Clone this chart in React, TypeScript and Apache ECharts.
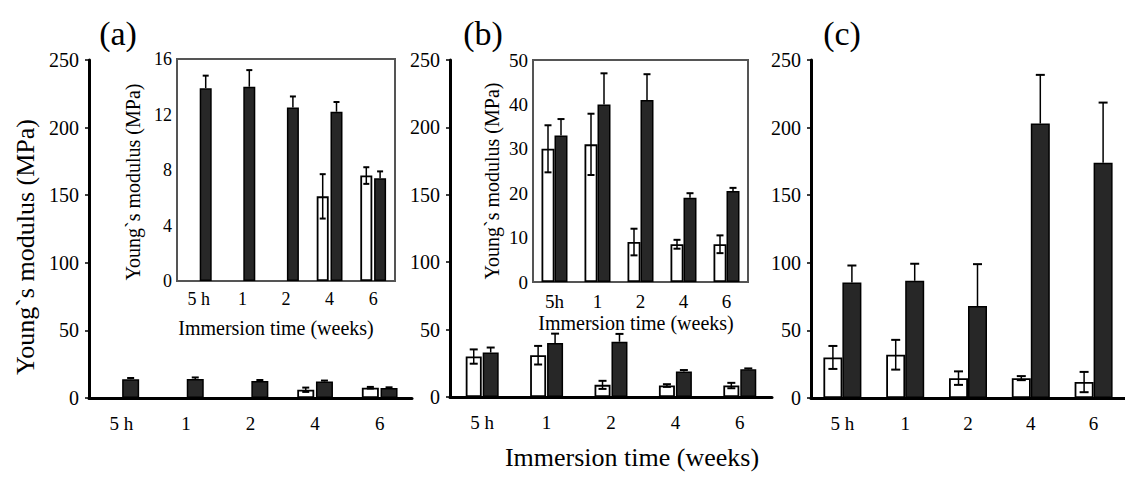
import React, { useEffect, useRef } from "react";
import * as echarts from "echarts";

// ---------- data ----------
const mainCategories = ["5 h", "1", "2", "4", "6"];
const insetACategories = ["5 h", "1", "2", "4", "6"];
const insetBCategories = ["5h", "1", "2", "4", "6"];

const mainTicks = [0, 50, 100, 150, 200, 250];
const insetATicks = [0, 4, 8, 12, 16];
const insetBTicks = [0, 10, 20, 30, 40, 50];

// Panel (a)
const aWhite: (number | null)[] = [null, null, null, 6.1, 7.6];
const aWhiteErr: (number | null)[] = [null, null, null, 1.6, 0.6];
const aDark = [13.9, 14.0, 12.5, 12.2, 7.4];
const aDarkErr = [0.9, 1.2, 0.8, 0.7, 0.5];

// Panel (b)
const bWhite = [30, 31, 9, 8.5, 8.5];
const bWhiteErr = [5.3, 6.9, 3, 1, 2];
const bDark = [33, 40, 41, 19, 20.5];
const bDarkErr = [3.7, 7, 5.8, 1, 0.7];

// Panel (c)
const cWhite = [30, 32, 14.7, 14.7, 11.8];
const cWhiteErr = [8.5, 11, 5, 1.5, 7.5];
const cDark = [85.5, 86.7, 68, 203, 174];
const cDarkErr = [12.5, 12.6, 31, 36, 44.5];

const FONT = "'Liberation Serif', 'Times New Roman', serif";
const DARK = "#272727";

function errData(vals: (number | null)[], errs: (number | null)[]) {
  const out: number[][] = [];
  vals.forEach((v, i) => {
    if (v != null && errs[i] != null) out.push([i, v, errs[i] as number]);
  });
  return out;
}

function makeErr(offset: number, both: boolean, capW: number) {
  return (params: any, api: any) => {
    const idx = api.value(0);
    const v = api.value(1);
    const e = api.value(2);
    const top = api.coord([idx, v + e]);
    const mid = api.coord([idx, v]);
    const bot = api.coord([idx, Math.max(0, v - e)]);
    const x = top[0] + offset;
    const y1 = both ? bot[1] : mid[1];
    const children: any[] = [
      { type: "line", shape: { x1: x, y1: y1, x2: x, y2: top[1] }, style: { stroke: "#000", lineWidth: 1.5 } },
      { type: "line", shape: { x1: x - capW / 2, y1: top[1], x2: x + capW / 2, y2: top[1] }, style: { stroke: "#000", lineWidth: 2 } },
    ];
    if (both) {
      children.push({ type: "line", shape: { x1: x - capW / 2, y1: bot[1], x2: x + capW / 2, y2: bot[1] }, style: { stroke: "#000", lineWidth: 2 } });
    }
    return { type: "group", children };
  };
}

function mainX(gridIndex: number) {
  return {
    type: "category",
    gridIndex,
    data: mainCategories,
    axisLine: { show: true, lineStyle: { color: "#000", width: 3 } },
    axisTick: { show: false },
    axisLabel: { color: "#000", fontFamily: FONT, fontSize: 19, margin: 16 },
  };
}
function mainY(gridIndex: number) {
  return {
    type: "value",
    gridIndex,
    min: mainTicks[0],
    max: mainTicks[mainTicks.length - 1],
    interval: mainTicks[1] - mainTicks[0],
    axisLine: { show: true, lineStyle: { color: "#000", width: 3 } },
    axisTick: { show: true, length: 4, lineStyle: { color: "#000", width: 1.5 } },
    splitLine: { show: false },
    axisLabel: { color: "#000", fontFamily: FONT, fontSize: 20, margin: 10 },
  };
}
function insetX(gridIndex: number, cats: string[], fs: number, margin: number) {
  return {
    type: "category",
    gridIndex,
    data: cats,
    axisLine: { show: true, lineStyle: { color: "#333", width: 2 } },
    axisTick: { show: false },
    axisLabel: { color: "#000", fontFamily: FONT, fontSize: fs, margin },
  };
}
function insetY(gridIndex: number, ticks: number[], fs: number) {
  return {
    type: "value",
    gridIndex,
    min: ticks[0],
    max: ticks[ticks.length - 1],
    interval: ticks[1] - ticks[0],
    axisLine: { show: true, lineStyle: { color: "#333", width: 2 } },
    axisTick: { show: true, inside: true, length: 3, lineStyle: { color: "#333" } },
    splitLine: { show: false },
    axisLabel: { color: "#000", fontFamily: FONT, fontSize: fs, margin: 5 },
  };
}

function barPair(
  axis: number,
  white: (number | null)[],
  whiteErr: (number | null)[],
  dark: number[],
  darkErr: number[],
  w: number,
  gap: number,
  capW: number,
  z: number
) {
  const off = (w + gap * w) / 2;
  return [
    {
      type: "bar",
      xAxisIndex: axis,
      yAxisIndex: axis,
      data: white.map((v) => (v == null ? "-" : v)),
      barWidth: w,
      barGap: `${gap * 100}%`,
      itemStyle: { color: "#fff", borderColor: "#000", borderWidth: 1.8 },
      z,
    },
    {
      type: "bar",
      xAxisIndex: axis,
      yAxisIndex: axis,
      data: dark,
      barWidth: w,
      barGap: `${gap * 100}%`,
      itemStyle: { color: DARK, borderColor: "#000", borderWidth: 1.5 },
      z,
    },
    {
      type: "custom",
      xAxisIndex: axis,
      yAxisIndex: axis,
      data: errData(white, whiteErr),
      renderItem: makeErr(-off, true, capW),
      z: z + 1,
    },
    {
      type: "custom",
      xAxisIndex: axis,
      yAxisIndex: axis,
      data: errData(dark, darkErr),
      renderItem: makeErr(off, false, capW),
      z: z + 1,
    },
  ];
}

function txt(text: string, x: number, y: number, size: number, rot = 0) {
  return {
    type: "text",
    x,
    y,
    rotation: rot,
    z: 10,
    style: {
      text,
      font: `${size}px ${FONT}`,
      fill: "#000",
      align: "center",
      verticalAlign: "middle",
      textAlign: "center",
      textVerticalAlign: "middle",
    },
  };
}

export default function App() {
  const ref = useRef<HTMLDivElement>(null);
  useEffect(() => {
    if (!ref.current) return;
    const chart = echarts.init(ref.current, undefined, { renderer: "svg" });
    const option: any = {
      animation: false,
      backgroundColor: "#fff",
      grid: [
        { left: 89, top: 60, width: 323, height: 338 },
        { left: 450, top: 60, width: 322, height: 337 },
        { left: 811, top: 60, width: 323, height: 338 },
        { left: 177, top: 59, width: 218, height: 222, show: true, borderColor: "#555", borderWidth: 2, backgroundColor: "#fff", z: 3 },
        { left: 533, top: 60, width: 215, height: 222, show: true, borderColor: "#555", borderWidth: 2, backgroundColor: "#fff", z: 3 },
      ],
      xAxis: [
        mainX(0),
        mainX(1),
        mainX(2),
        insetX(3, insetACategories, 18, 9),
        insetX(4, insetBCategories, 19, 10),
      ],
      yAxis: [mainY(0), mainY(1), mainY(2), insetY(3, insetATicks, 18), insetY(4, insetBTicks, 19)],
      series: [
        ...barPair(0, aWhite, aWhiteErr, aDark, aDarkErr, 17, 0.1, 7, 2),
        ...barPair(1, bWhite, bWhiteErr, bDark, bDarkErr, 16, 0.06, 8, 2),
        ...barPair(2, cWhite, cWhiteErr, cDark, cDarkErr, 19, 0, 9, 2),
        ...barPair(3, aWhite, aWhiteErr, aDark, aDarkErr, 12, 0.15, 6, 4),
        ...barPair(4, bWhite, bWhiteErr, bDark, bDarkErr, 13, 0, 7, 4),
      ],
      graphic: [
        txt("(a)", 118, 33, 34),
        txt("(b)", 483, 33, 34),
        txt("(c)", 842, 33, 34),
        txt("Young`s modulus (MPa)", 25, 247, 26, Math.PI / 2),
        txt("Immersion time (weeks)", 632, 457, 26),
        txt("Young`s modulus (MPa)", 133, 182, 20, Math.PI / 2),
        txt("Immersion time (weeks)", 276, 328, 20),
        txt("Young`s modulus (MPa)", 492, 181, 20, Math.PI / 2),
        txt("Immersion time (weeks)", 636, 323, 20),
      ],
    };
    chart.setOption(option);
    return () => chart.dispose();
  }, []);
  return (
    <div
      ref={ref}
      style={{ position: "fixed", left: 0, top: 0, width: 1125, height: 477, background: "#fff" }}
    />
  );
}
